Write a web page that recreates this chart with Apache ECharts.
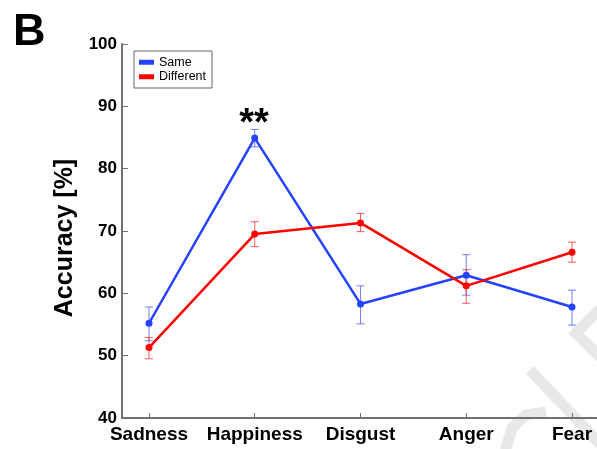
<!DOCTYPE html>
<html><head><meta charset="utf-8">
<script src="https://cdn.jsdelivr.net/npm/echarts@6/dist/echarts.min.js"></script>
<style>html,body{margin:0;padding:0;background:#fff}#c{width:597px;height:449px}</style>
</head><body><div id="c"></div>
<script>
const categories = ['Sadness', 'Happiness', 'Disgust', 'Anger', 'Fear'];
const yTicks = [40, 50, 60, 70, 80, 90, 100];
const sameMean = [55.2, 84.9, 58.3, 62.9, 57.8];
const sameLow  = [52.4, 83.5, 55.1, 59.7, 54.9];
const sameHigh = [57.8, 86.3, 61.2, 66.2, 60.5];
const diffMean = [51.3, 69.5, 71.3, 61.2, 66.6];
const diffLow  = [49.5, 67.5, 69.9, 58.4, 65.0];
const diffHigh = [52.9, 71.5, 72.8, 63.8, 68.2];

const FONT = 'Liberation Sans, Arial, Helvetica, sans-serif';
const chart = echarts.init(document.getElementById('c'), null, { renderer: 'canvas' });

function errSeries(name, color, lo, hi) {
  return {
    type: 'custom', name: name, silent: true, z: 3,
    data: lo.map((l, i) => [i, l, hi[i]]),
    encode: { x: 0, y: [1, 2] },
    renderItem: function (params, api) {
      const x = api.value(0);
      const p1 = api.coord([x, api.value(1)]);
      const p2 = api.coord([x, api.value(2)]);
      const w = 4;
      const st = { stroke: color, lineWidth: 1 };
      return { type: 'group', children: [
        { type: 'line', shape: { x1: p1[0], y1: p1[1], x2: p2[0], y2: p2[1] }, style: st },
        { type: 'line', shape: { x1: p1[0] - w, y1: p1[1], x2: p1[0] + w, y2: p1[1] }, style: st },
        { type: 'line', shape: { x1: p2[0] - w, y1: p2[1], x2: p2[0] + w, y2: p2[1] }, style: st }
      ] };
    }
  };
}

const tickIdx = categories.map((c, i) => i);
const wm = { stroke: '#e8e8e8', lineWidth: 11, fill: null, lineCap: 'butt', lineJoin: 'miter' };

chart.setOption({
  animation: false,
  backgroundColor: '#fff',
  grid: { left: 122, right: 0, top: 44, bottom: 31, containLabel: false, outerBoundsMode: 'none' },
  xAxis: {
    type: 'value', min: -0.2553, max: 4.2364,
    axisLine: { show: true, onZero: false, lineStyle: { color: '#707070', width: 2 } },
    axisTick: { show: true, inside: true, length: 5, customValues: tickIdx, lineStyle: { color: '#707070', width: 1 } },
    axisLabel: { customValues: tickIdx, formatter: v => categories[Math.round(v)], fontFamily: FONT, fontWeight: 'bold', fontSize: 19, color: '#000', margin: 7 },
    splitLine: { show: false }
  },
  yAxis: {
    type: 'value', min: yTicks[0], max: yTicks[yTicks.length - 1], interval: 10,
    axisLine: { show: true, onZero: false, lineStyle: { color: '#707070', width: 2 } },
    axisTick: { show: true, inside: true, length: 6, lineStyle: { color: '#707070', width: 1 } },
    axisLabel: { fontFamily: FONT, fontWeight: 'bold', fontSize: 17, color: '#000', margin: 5 },
    splitLine: { show: false }
  },
  legend: {
    data: ['Same', 'Different'], orient: 'vertical', left: 134, top: 51,
    icon: 'rect', itemWidth: 15, itemHeight: 5, itemGap: 0,
    padding: [4, 6, 4, 5], borderColor: '#666', borderWidth: 1, backgroundColor: '#fff',
    textStyle: { fontFamily: FONT, fontSize: 12.5, color: '#000', lineHeight: 14.5 }
  },
  graphic: [
    { type: 'polyline', z: 0, silent: true, shape: { points: [[600, 309], [576, 333], [600, 357]] }, style: wm },
    { type: 'polyline', z: 0, silent: true, shape: { points: [[530, 370], [600, 444]] }, style: wm },
    { type: 'polyline', z: 0, silent: true, shape: { points: [[505, 452], [512, 428], [526, 415], [546, 412]] }, style: wm },
    { type: 'text', left: 13, top: 10, z: 100, style: { text: 'B', fontFamily: FONT, fontWeight: 'bold', fontSize: 45, fill: '#000' } },
    { type: 'text', x: 254, y: 106, z: 100, style: { text: '**', fontFamily: FONT, fontWeight: 'bold', fontSize: 38, fill: '#000', align: 'center', verticalAlign: 'top' } },
    { type: 'text', x: 65, y: 238, rotation: Math.PI / 2, z: 100, style: { text: 'Accuracy [%]', fontFamily: FONT, fontWeight: 'bold', fontSize: 25, fill: '#000', align: 'center', verticalAlign: 'middle' } }
  ],
  series: [
    errSeries('Same SEM', 'rgba(60,85,255,0.75)', sameLow, sameHigh),
    errSeries('Different SEM', 'rgba(255,40,40,0.75)', diffLow, diffHigh),
    { name: 'Same', type: 'line', z: 4, data: sameMean.map((v, i) => [i, v]), symbol: 'circle', symbolSize: 7,
      lineStyle: { color: '#2442ff', width: 2.5 }, itemStyle: { color: '#2442ff' } },
    { name: 'Different', type: 'line', z: 5, data: diffMean.map((v, i) => [i, v]), symbol: 'circle', symbolSize: 7,
      lineStyle: { color: '#ff0000', width: 2.5 }, itemStyle: { color: '#ff0000' } }
  ]
});
</script></body></html>
